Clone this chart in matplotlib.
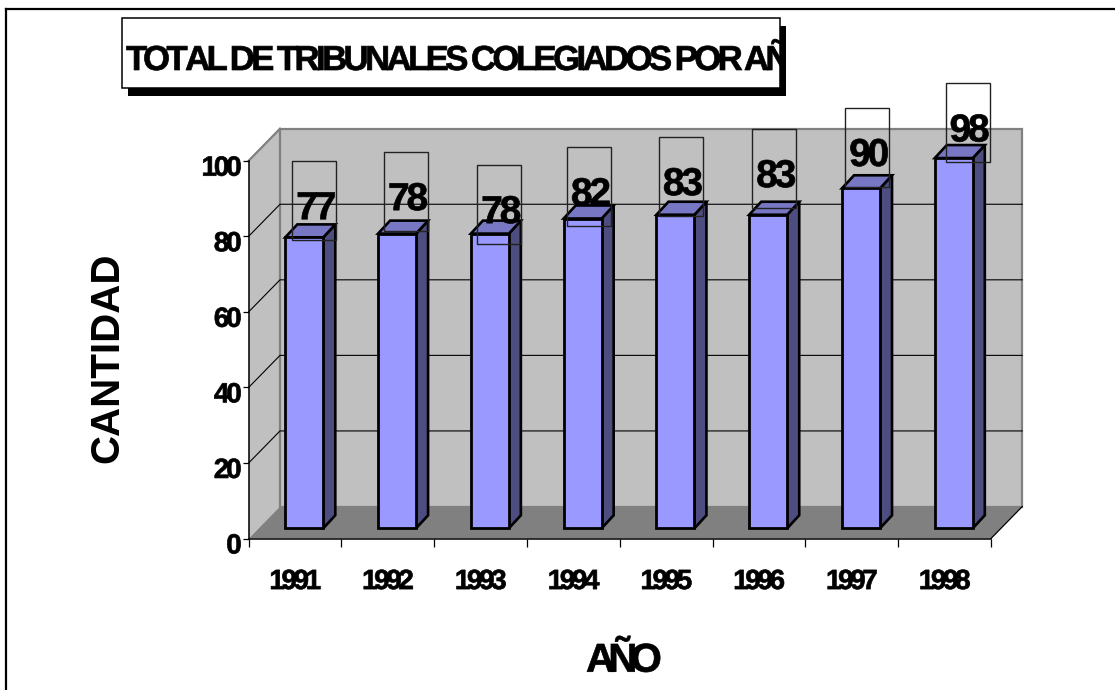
# Total de tribunales colegiados por año, drawn as an old spreadsheet style 3D column chart.
import matplotlib
matplotlib.use("Agg")
import matplotlib.pyplot as plt
import matplotlib.patheffects as pe
import numpy as np
from matplotlib.lines import Line2D
from matplotlib.patches import Rectangle
from matplotlib.path import Path
from matplotlib.transforms import Affine2D

plt.rcParams["font.family"] = ["Liberation Sans", "DejaVu Sans"]
plt.rcParams["font.weight"] = "bold"

years = ["1991", "1992", "1993", "1994", "1995", "1996", "1997", "1998"]
tribunales = [77, 78, 78, 82, 83, 83, 90, 98]
y_ticks = [0, 20, 40, 60, 80, 100]

title_text = "TOTAL DE TRIBUNALES COLEGIADOS POR AÑO"
x_title = "AÑO"
y_title = "CANTIDAD"

# where each label box sits relative to the top left corner of its bar, in pixels
label_dx = [7, 6, 6.4, 3.3, 2.5, 3, 3.2, 10.8]
label_dy = [-2.8, 2.5, -10.5, -7.7, -1.4, 6.6, 1.3, -4.4]

W, H = 1115, 690
front_color = "#9999FF"
top_color = "#7777C4"
side_color = "#4D4D80"
wall_color = "#C0C0C0"
floor_color = "#808080"


# The original text is set so tight the letters touch. matplotlib has no letter spacing,
# so pull the glyph outlines together here. Text paths come in units of 1/100 em.
class Tight(pe.AbstractPathEffect):
    def __init__(self, track, anchor=0.5, stroke=0.5):
        super().__init__()
        self.track = track * 100
        self.anchor = anchor
        self.stroke = stroke

    def draw_path(self, renderer, gc, tpath, affine, rgbFace=None):
        verts = tpath.vertices.copy()
        starts = list(np.where(tpath.codes == Path.MOVETO)[0]) + [len(verts)]
        shift = 0
        group_end = None
        for a, b in zip(starts[:-1], starts[1:]):
            lo, hi = verts[a:b, 0].min(), verts[a:b, 0].max()
            if group_end is not None and lo >= group_end - 1:
                shift += self.track
                # a wide gap means there was a space in between
                if lo - group_end > 15:
                    shift += self.track
            group_end = hi if group_end is None else max(group_end, hi)
            verts[a:b, 0] -= shift
        verts[:, 0] += shift * self.anchor
        gc0 = renderer.new_gc()
        gc0.copy_properties(gc)
        gc0.set_linewidth(self.stroke)
        gc0.set_foreground("black")
        renderer.draw_path(gc0, Path(verts, tpath.codes), affine, rgbFace)
        gc0.restore()


def fx(px):
    return px / W


def fy(py):
    return 1 - py / H


fig = plt.figure(figsize=(W / 100, H / 100), dpi=100)
ax = fig.add_axes([fx(248.7), fy(538.5), 742.3 / W, 377.8 / H])
ax.set_xlim(0, len(years))
ax.set_ylim(0, 100)
ax.patch.set_visible(False)

# pixels per data unit, used to turn the fake depth into data units
ppx = 742.3 / len(years)
ppy = 377.8 / 100
wall_dx = 31.3 / ppx
wall_dy = 32 / ppy
n = len(years)

# walls and floor
ax.fill([0, wall_dx, wall_dx, 0], [0, wall_dy, 100 + wall_dy, 100], color=wall_color, lw=0, clip_on=False, zorder=1)
ax.add_patch(Rectangle((wall_dx, wall_dy), n, 100, fc=wall_color, ec=floor_color, lw=1.6, clip_on=False, zorder=1.1))
ax.fill([0, n, n + wall_dx, wall_dx], [0, 0, wall_dy, wall_dy], color=floor_color, lw=0, clip_on=False, zorder=1.2)
ax.plot([0, wall_dx], [100, 100 + wall_dy], color=floor_color, lw=1.6, clip_on=False, zorder=1.3)
ax.plot([n, n + wall_dx], [0, wall_dy], color="black", lw=0.9, clip_on=False, zorder=1.3)

# gridlines run along the side wall and then the back wall
for t in y_ticks[1:-1]:
    ax.plot([0, wall_dx, n + wall_dx], [t, t + wall_dy, t + wall_dy], color="black", lw=0.8, clip_on=False, zorder=1.4)

# the columns
bar_w = 38 / ppx
bar_dx = 9.2 / ppx
bar_dy = 10.2 / ppy
side_dx = 12 / ppx
side_dy = 13 / ppy
lefts = []
for i, v in enumerate(tribunales):
    center = i + 0.5 + bar_dx
    left = center - bar_w / 2
    right = center + bar_w / 2
    top = bar_dy + v
    lefts.append(left)
    ax.fill([right, right + side_dx, right + side_dx, right],
            [bar_dy, bar_dy + side_dy, top + side_dy, top],
            fc=side_color, ec="black", lw=1.9, joinstyle="miter", clip_on=False, zorder=3)
    ax.fill([left, right, right + side_dx, left + side_dx],
            [top, top, top + side_dy, top + side_dy],
            fc=top_color, ec="black", lw=1.9, joinstyle="miter", clip_on=False, zorder=3)
    ax.bar(center, v, width=bar_w, bottom=bar_dy, color=front_color, edgecolor="black", linewidth=2,
           clip_on=False, zorder=3.1)

# data labels, with the empty frames the original leaves around them
for i, v in enumerate(tribunales):
    box_x = lefts[i] + label_dx[i] / ppx
    box_y = bar_dy + v + label_dy[i] / ppy
    ax.add_patch(Rectangle((box_x, box_y), 44 / ppx, 79 / ppy, fill=False, ec="#222222", lw=1.0, clip_on=False, zorder=4))
    ax.text(box_x + 24 / ppx, box_y + 21 / ppy, str(v), fontsize=28, ha="center", va="baseline", zorder=5,
            path_effects=[Tight(0.08)])

# axes
for name in ["top", "right"]:
    ax.spines[name].set_visible(False)
for name in ["left", "bottom"]:
    ax.spines[name].set_linewidth(1.1)
    ax.spines[name].set_zorder(2)

ax.set_yticks(y_ticks)
ax.tick_params(axis="y", direction="out", length=4, width=0.9, pad=1, labelsize=20)
ax.set_xticks(range(n + 1))
ax.set_xticklabels([])
ax.tick_params(axis="x", which="major", direction="out", length=6, width=0.9)
ax.set_xticks([i + 0.5 for i in range(n)], minor=True)
ax.set_xticklabels(years, minor=True, fontsize=20)
ax.tick_params(axis="x", which="minor", length=0, pad=22)
for lbl in ax.get_xticklabels(minor=True):
    lbl.set_path_effects([Tight(0.12)])
for lbl in ax.get_yticklabels():
    lbl.set_path_effects([Tight(0.11, anchor=1)])
    lbl.set_transform(lbl.get_transform() + Affine2D().translate(0, -5))

# title box with its hard shadow, and the frame that is left of the chart area
fig.add_artist(Rectangle((fx(127.5), fy(96)), 658.5 / W, 70 / H, fc="black", ec="none", transform=fig.transFigure))
title_box = Rectangle((fx(121.7), fy(87.7)), 658.3 / W, 69.4 / H, fc="white", ec="black", lw=1.1, transform=fig.transFigure)
fig.add_artist(title_box)
title = fig.text(fx(126), fy(70), title_text, fontsize=25, ha="left", va="baseline", path_effects=[Tight(0.103, anchor=0)])
title.set_clip_path(title_box)
title.set_clip_on(True)

fig.add_artist(Line2D([fx(5.7), 1], [fy(9), fy(9)], color="black", lw=1.6, transform=fig.transFigure))
fig.add_artist(Line2D([fx(5.7), fx(5.7)], [fy(9), 0], color="black", lw=1.6, transform=fig.transFigure))

fig.text(fx(624), fy(671.7), x_title, fontsize=29, ha="center", va="baseline", path_effects=[Tight(0.17)])
fig.text(fx(107.5), fy(358), y_title, fontsize=29, rotation=90, ha="center", va="center")

fig.savefig("out.png", dpi=100)
